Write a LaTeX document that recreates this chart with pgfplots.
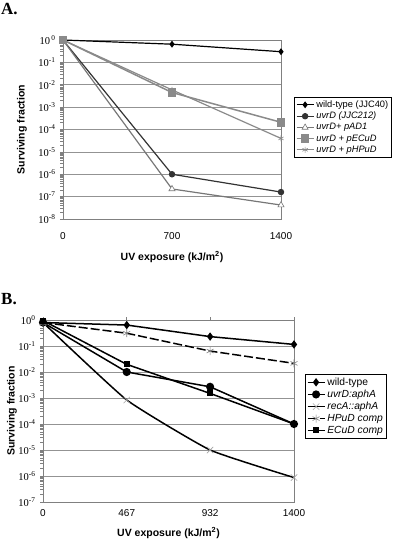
\documentclass[border=0pt]{standalone}
\usepackage{fontspec}
\setmainfont{Liberation Serif}
\newfontfamily\arial{Liberation Sans}
\usepackage{pgfplots}
\pgfplotsset{compat=1.18}
\definecolor{dgray}{HTML}{333333}
\definecolor{mgray}{HTML}{777777}
\definecolor{lgray}{HTML}{8A8A8A}
\pgfplotsset{
  panelstyle/.style={
    scale only axis, xmin=0, xmax=1400, clip=false,
    axis line style={color=gray, line width=0.8pt},
    ymajorgrids, grid style={color=gray!85, line width=0.6pt},
    tick align=outside, major tick length=3pt,
    tick style={color=gray, line width=0.6pt},
    ytick pos=left,
    yticklabel style={font=\fontsize{10.5}{12}\selectfont, xshift=-1pt},
    xticklabel style={font=\arial\fontsize{10}{12}\selectfont},
    xlabel={UV exposure (kJ/m\textsuperscript{2})},
    ylabel={Surviving fraction},
    label style={font=\arial\bfseries\fontsize{10.5}{12}\selectfont},
    legend cell align=left,
  }
}
\begin{document}
\begin{tikzpicture}
\useasboundingbox (0pt,0pt) rectangle (400pt,539pt);
\node[anchor=north west, inner sep=0pt, font=\bfseries\fontsize{17}{17}\selectfont] at (1pt,536pt) {A.};
\node[anchor=north west, inner sep=0pt, font=\bfseries\fontsize{17}{17}\selectfont] at (1pt,246pt) {B.};
% Panel A
\begin{axis}[ymode=log, panelstyle,
  at={(63pt,320pt)}, anchor=south west, width=218pt, height=179pt,
  ymin=1e-8, ymax=1,
  xtick={0,700,1400}, xticklabels={0,700,1400},
  xtick style={draw=none},
  xticklabel style={yshift=-7pt},
  ytick={1e-8,1e-7,1e-6,1e-5,1e-4,1e-3,1e-2,1e-1,1},
  minor ytick={},
  yticklabels={10\textsuperscript{-8},10\textsuperscript{-7},10\textsuperscript{-6},10\textsuperscript{-5},10\textsuperscript{-4},10\textsuperscript{-3},10\textsuperscript{-2},10\textsuperscript{-1},10\textsuperscript{\,0}},
  xlabel style={at={(axis description cs:0.5,0)}, anchor=center, yshift=-38pt},
  ylabel style={at={(axis description cs:-0.188,0.5)}, anchor=center},
  legend style={at={(1.06,0.682)}, anchor=north west, draw=black, line width=0.5pt,
    font=\arial\fontsize{9.3}{10.5}\selectfont, inner sep=1.5pt, row sep=-0.8pt},
]
\addplot[black, line width=1.2pt, mark=diamond*, mark size=2.5pt] coordinates {(0,1) (700,0.65) (1400,0.3)};
\addlegendentry{wild-type (JJC40)}
\addplot[dgray, line width=1.2pt, mark=*, mark size=2.6pt] coordinates {(0,1) (700,1e-6) (1400,1.6e-7)};
\addlegendentry{\itshape uvrD (JJC212)}
\addplot[mgray, line width=1.2pt, mark=triangle*, mark size=3.5pt, mark options={fill=white, line width=0.6pt}] coordinates {(0,1) (700,2.2e-7) (1400,4.2e-8)};
\addlegendentry{\itshape uvrD+ pAD1}
\addplot[lgray, line width=1.5pt, mark=square*, mark size=3.6pt] coordinates {(0,1) (700,4.5e-3) (1400,2.1e-4)};
\addlegendentry{\itshape uvrD + pECuD}
\addplot[lgray, line width=1.2pt, mark=asterisk, mark size=3pt, mark options={line width=0.6pt}] coordinates {(0,1) (700,5.9e-3) (1400,4e-5)};
\addlegendentry{\itshape uvrD + pHPuD}
\end{axis}
% Panel B
\begin{axis}[ymode=log, panelstyle,
  at={(43pt,37pt)}, anchor=south west, width=251pt, height=182pt,
  ymin=1e-7, ymax=1,
  xtick={0,467,932,1400}, xticklabels={0,467,932,1400},
  xtick pos=upper, xticklabel pos=lower,
  xticklabel style={yshift=-1pt},
  ytick={1e-7,1e-6,1e-5,1e-4,1e-3,1e-2,1e-1,1},
  minor ytick={},
  yticklabels={10\textsuperscript{-7},10\textsuperscript{-6},10\textsuperscript{-5},10\textsuperscript{-4},10\textsuperscript{-3},10\textsuperscript{-2},10\textsuperscript{-1},10\textsuperscript{0}},
  xlabel style={at={(axis description cs:0.5,0)}, anchor=center, yshift=-31pt},
  ylabel style={at={(axis description cs:-0.124,0.5)}, anchor=center},
  legend style={at={(1.044,0.703)}, anchor=north west, draw=black, line width=0.5pt,
    font=\arial\fontsize{10.3}{11.5}\selectfont, inner sep=1.5pt, row sep=-0.8pt},
]
\addplot[black, line width=1.5pt, mark=diamond*, mark size=3pt] coordinates {(0,0.8) (467,0.64) (932,0.23) (1400,0.115)};
\addlegendentry{wild-type}
\addplot[black, line width=1.5pt, mark=*, mark size=3.3pt] coordinates {(0,0.8) (467,0.01) (932,0.0027) (1400,1e-4)};
\addlegendentry{\itshape uvrD:aphA}
\addplot[black, line width=1.5pt, smooth, tension=0.25, mark=x, mark size=4.5pt, mark options={color=gray!70, line width=0.6pt, solid}] coordinates {(0,0.8) (467,8.4e-4) (932,1e-5) (1400,8.7e-7)};
\addlegendentry{\itshape recA::aphA}
\addplot[black, line width=1.5pt, dash pattern=on 9pt off 3pt, mark=asterisk, mark size=4pt, mark options={color=gray, line width=0.6pt, solid}] coordinates {(0,0.8) (467,0.31) (932,0.064) (1400,0.0215)};
\addlegendentry{\itshape HPuD comp}
\addplot[black, line width=1.5pt, mark=square*, mark size=2.3pt] coordinates {(0,0.95) (467,0.0197) (932,0.0015) (1400,1e-4)};
\addlegendentry{\itshape ECuD comp}
\end{axis}
\end{tikzpicture}
\end{document}
